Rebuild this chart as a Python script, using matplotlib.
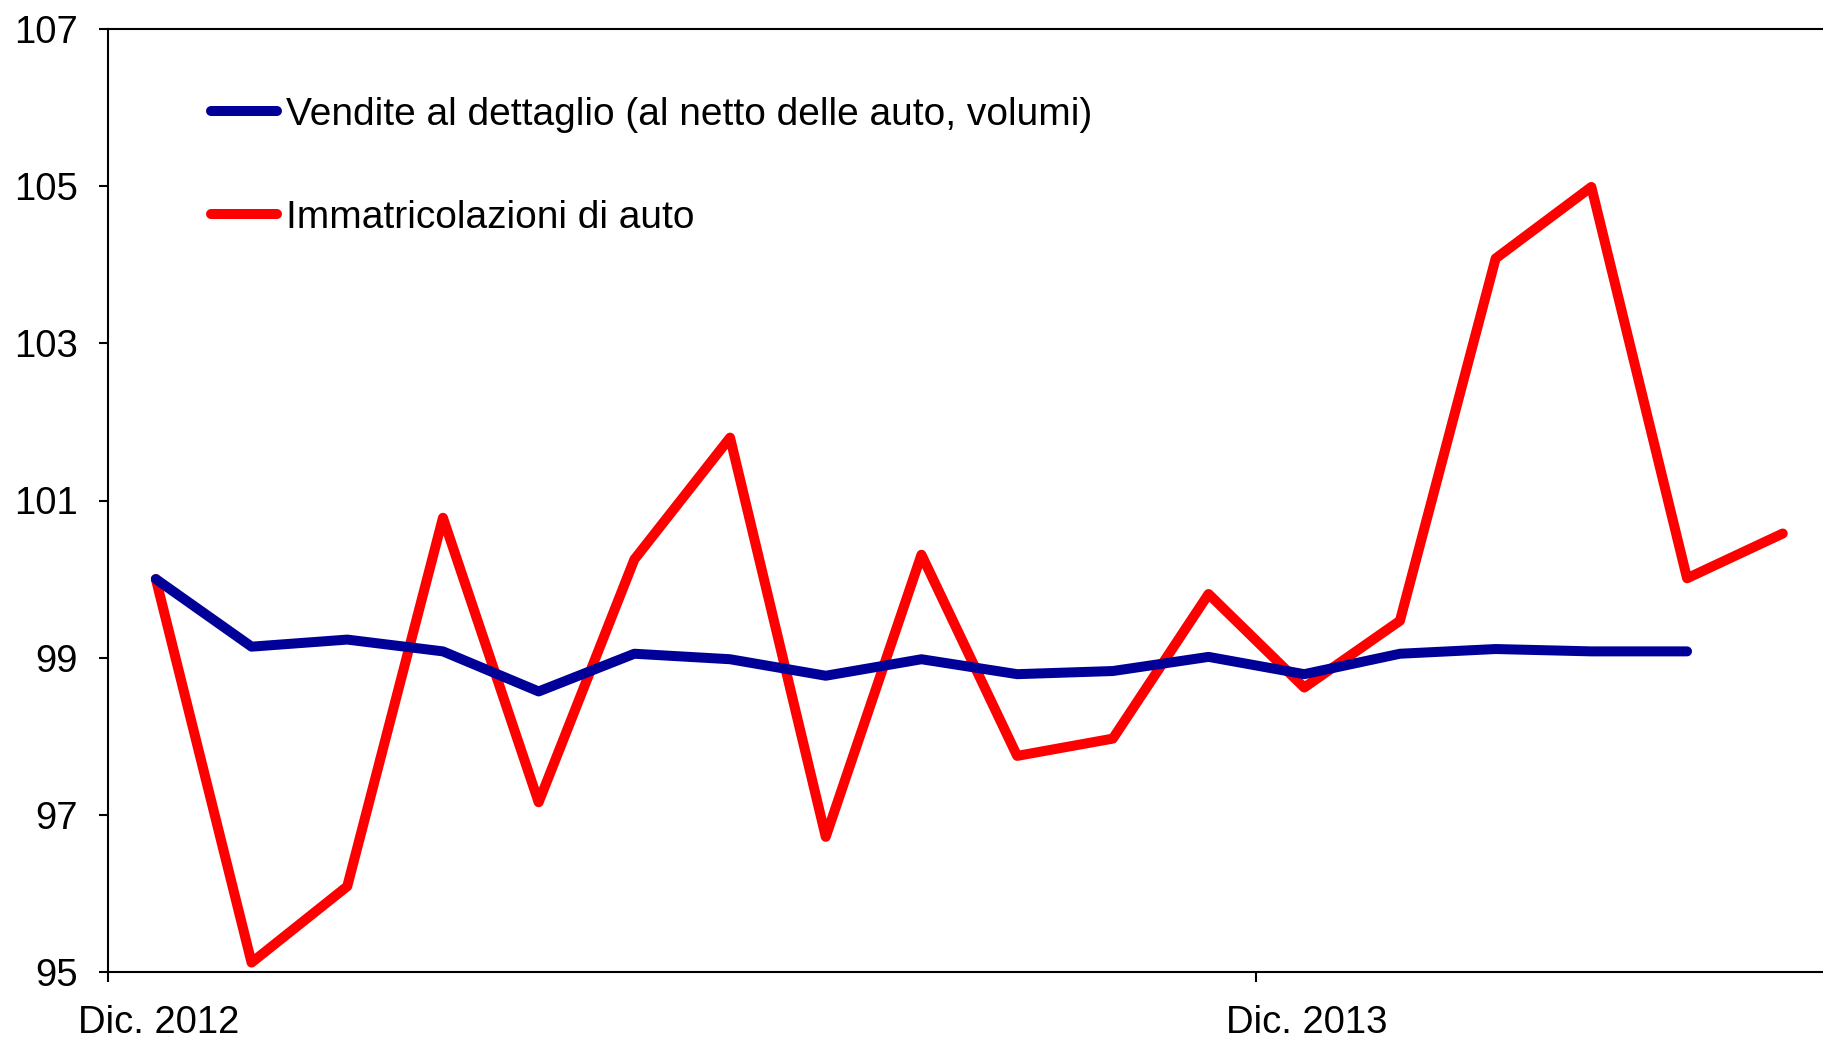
import matplotlib
matplotlib.use("Agg")
import matplotlib.pyplot as plt
import matplotlib.transforms as mtransforms
import numpy as np

# Data (monthly, Dec 2012 onwards)
vendite = [100.0, 99.14, 99.23, 99.08, 98.57, 99.05, 98.98, 98.77, 98.98,
           98.79, 98.83, 99.01, 98.79, 99.05, 99.11, 99.08, 99.08]
immatricolazioni = [100.0, 95.12, 96.09, 100.78, 97.16, 100.25, 101.80, 96.72,
                    100.31, 97.75, 97.97, 99.81, 98.62, 99.47, 104.08, 104.99,
                    100.01, 100.58]
tick_labels = ["Dic. 2012", "Dic. 2013"]
tick_positions = [0, 12]
y_ticks = [95, 97, 99, 101, 103, 105, 107]
labels = ["Vendite al dettaglio (al netto delle auto, volumi)",
          "Immatricolazioni di auto"]

plt.rcParams['font.family'] = ['Liberation Sans', 'DejaVu Sans']

W, H = 1823, 1038
fig = plt.figure(figsize=(W / 100, H / 100), dpi=100)
left, top, bottom = 108, 29, 972
ax = fig.add_axes([left / W, 1 - bottom / H, (W - left) / W, (bottom - top) / H])

x_v = np.arange(len(vendite)) + 0.5
x_i = np.arange(len(immatricolazioni)) + 0.5
ax.plot(x_v, vendite, color="#000099", lw=7.2, solid_capstyle="round",
        solid_joinstyle="round", label=labels[0], zorder=3)
ax.plot(x_i, immatricolazioni, color="#FF0000", lw=7.2, solid_capstyle="round",
        solid_joinstyle="round", label=labels[1], zorder=2)

ax.set_ylim(95, 107)
ax.set_xlim(0, (W - left) / 95.7)
ax.set_yticks(y_ticks)
ax.set_yticklabels([str(v) for v in y_ticks])
ax.set_xticks(tick_positions)
ax.set_xticklabels(tick_labels)

for s in ["left", "bottom", "top"]:
    ax.spines[s].set_linewidth(1.5)
    ax.spines[s].set_color("black")
ax.spines["right"].set_visible(False)

ax.tick_params(axis="y", direction="out", length=6.5, width=1.5, labelsize=27.5, pad=15)
ax.tick_params(axis="x", direction="out", length=7, width=1.5, labelsize=27.5, pad=17)
offset = mtransforms.ScaledTranslation(-30 / 100, 0, fig.dpi_scale_trans)
for lab in ax.get_xticklabels():
    lab.set_horizontalalignment("left")
    lab.set_transform(lab.get_transform() + offset)

anchor_x = (195 - left) / (W - left)
anchor_y = 1 - (81.5 - top) / (bottom - top)
leg = ax.legend(loc="upper left", bbox_to_anchor=(anchor_x, anchor_y),
                frameon=False, fontsize=28, handlelength=1.7, handletextpad=0.25,
                labelspacing=1.71, borderaxespad=0)
for line in leg.get_lines():
    line.set_linewidth(7.2)
    line.set_solid_capstyle("round")

fig.savefig("out.png", dpi=100)
